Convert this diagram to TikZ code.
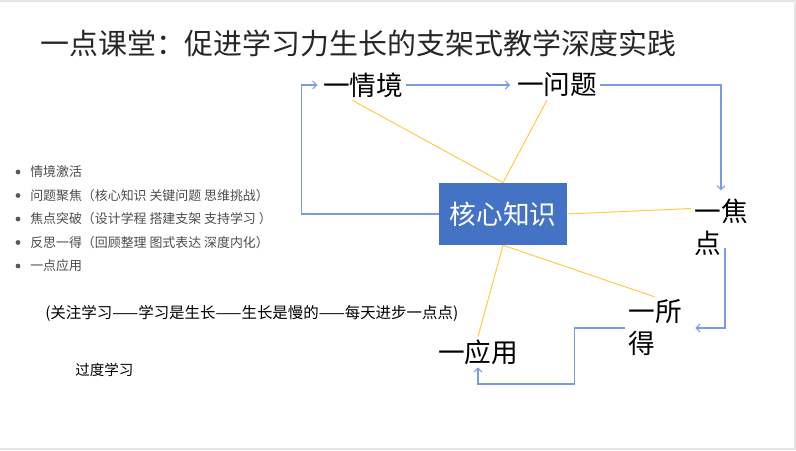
\documentclass[tikz,border=0pt]{standalone}
\usepackage{fontspec}
\setmainfont{Noto Sans CJK SC}
\usetikzlibrary{arrows.meta}
\definecolor{coreblue}{HTML}{4472C4}
\definecolor{flowblue}{HTML}{7A9BE0}
\definecolor{linkgold}{HTML}{FFC83D}
\tikzset{
  stage/.style={inner sep=2pt,align=left,font=\fontsize{20}{24}\selectfont},
  flow/.style={draw=flowblue,line width=0.8pt,-{Straight Barb[length=3pt,width=6pt]}},
  link/.style={draw=linkgold,line width=0.7pt},
  item/.style={anchor=west,inner sep=0pt,text=black!70,font=\fontsize{9.7}{11}\selectfont}
}
\begin{document}
\begin{tikzpicture}[x=0.75pt,y=-0.75pt]
\useasboundingbox (0,0) rectangle (796,450);
\draw[black!10,line width=1.5pt] (0,0.5) -- (795,0.5) -- (795,449) -- (0,449);
\node[anchor=west,inner sep=0pt,text=black!85,font=\fontsize{21.7}{24}\selectfont] (title) at (40,43) {一点课堂：促进学习力生长的支架式教学深度实践};
\node[stage] (qj) at (363,85) {一情境};
\node[stage] (wt) at (557,85) {一问题};
\node[stage] (jd) at (721,227) {一焦\\点};
\node[stage] (sd) at (655,328) {一所\\得};
\node[stage] (yy) at (478,352) {一应用};
\node[fill=coreblue,text=white,minimum width=96pt,minimum height=46.5pt,font=\fontsize{20}{24}\selectfont] (core) at (503,214) {核心知识};
\draw[flow,shorten >=2pt] (core.west) -- ++(-137,0) |- (qj.west);
\draw[flow,shorten >=3pt] (qj.east) -- (wt.west);
\draw[flow] (wt.east) -| ([yshift=4pt]jd.north);
\draw[flow] ([xshift=3pt,yshift=8pt]jd.south) |- ([xshift=8pt]sd.east);
\draw[flow] (sd.west) -| ++(-51,56) -| (yy.south);
\draw[link] (core.north) -- ([xshift=-8pt]qj.south);
\draw[link] (core.north) -- ([xshift=-7.5pt]wt.south);
\draw[link] (core.east) -- (jd.148);
\draw[link] (core.south) -- (sd.north);
\draw[link] (core.south) -- (yy.north);
\foreach \txt [count=\i] in {情境激活,问题聚焦（核心知识 关键问题 思维挑战）,焦点突破（设计学程 搭建支架 支持学习 ）,反思一得（回顾整理 图式表达 深度内化）,一点应用}{
  \node[item] (b\i) at (30,{148.5+23.5*\i}) {\txt};
  \fill[black!65] ([xshift=-9pt]b\i.west) circle (1.8pt);
}
\node[anchor=west,inner sep=0pt,font=\fontsize{11.6}{13}\selectfont] (motto) at (45,313) {(关注学习——学习是生长——生长是慢的——每天进步一点点)};
\node[anchor=west,inner sep=0pt,font=\fontsize{10.9}{13}\selectfont] (over) at (75,370) {过度学习};
\end{tikzpicture}
\end{document}
